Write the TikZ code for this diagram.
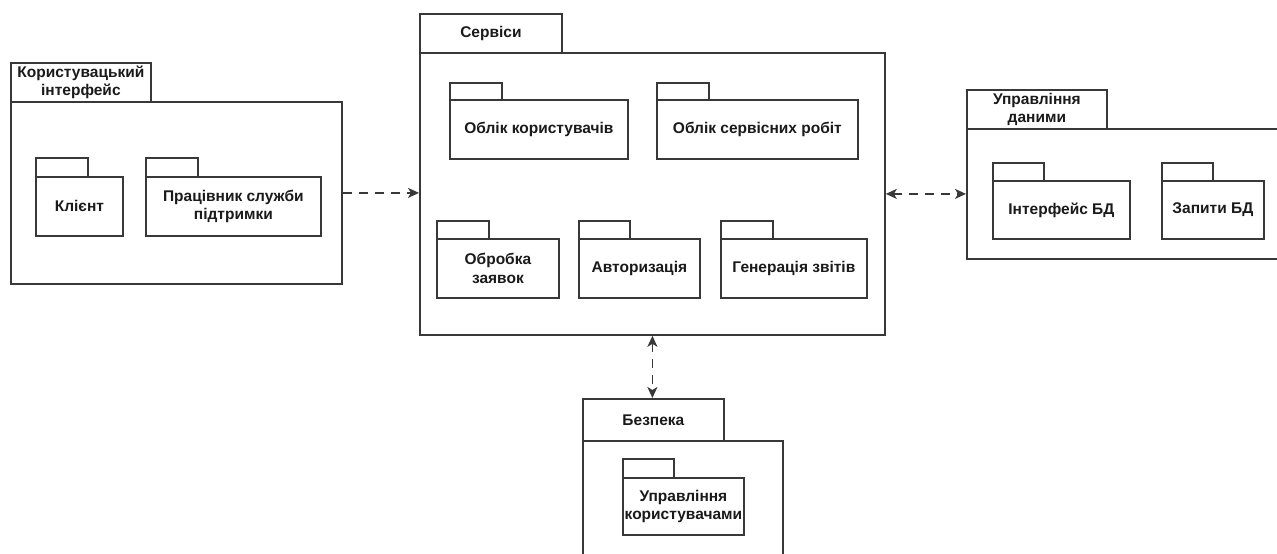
\documentclass[tikz,border=0pt]{standalone}
\usepackage{fontspec}
\setmainfont{Liberation Sans}
\usetikzlibrary{arrows.meta}
\definecolor{edge}{HTML}{383838}
\definecolor{ink}{HTML}{1A1A1A}
\tikzset{
  x=1pt, y=-1pt,
  pkgbox/.style={draw=edge, line width=1.8pt, fill=white, anchor=north west,
    inner sep=0pt, align=center, text=ink,
    font=\fontsize{15.5}{18.5}\selectfont\bfseries},
  dep/.style={draw=edge, line width=1.8pt, dash pattern=on 9pt off 7pt,
    >={Stealth[length=11pt, width=10pt, inset=3pt]}}
}
\begin{document}
\begin{tikzpicture}
\useasboundingbox (0,0) rectangle (1277,554);
\clip (0,0) rectangle (1277,554);
\fill[white] (0,0) rectangle (1277,554);

% --- Користувацький інтерфейс ---
\node[pkgbox, minimum width=331, minimum height=182] (uib) at (10,101) {};
\node[pkgbox, minimum width=140, minimum height=39] (uit) at (10,62) {Користувацький\\інтерфейс};
\node[pkgbox, minimum width=52, minimum height=19] (klt) at (35,157) {};
\node[pkgbox, minimum width=87, minimum height=59] (kl) at (35,176) {Клієнт};
\node[pkgbox, minimum width=52, minimum height=19] (prt) at (145,157) {};
\node[pkgbox, minimum width=175, minimum height=59] (pr) at (145,176) {Працівник служби\\підтримки};

% --- Сервіси ---
\node[pkgbox, minimum width=465, minimum height=282] (srvb) at (419,52) {};
\node[pkgbox, minimum width=142, minimum height=39] (srvt) at (419,13) {Сервіси};
\node[pkgbox, minimum width=52, minimum height=17] (okt) at (449,82) {};
\node[pkgbox, minimum width=178, minimum height=59] (ok) at (449,99) {Облік користувачів};
\node[pkgbox, minimum width=52, minimum height=17] (ost) at (656,82) {};
\node[pkgbox, minimum width=201, minimum height=59] (os) at (656,99) {Облік сервісних робіт};
\node[pkgbox, minimum width=52, minimum height=18] (obt) at (436,220) {};
\node[pkgbox, minimum width=122, minimum height=59] (ob) at (436,238) {Обробка\\заявок};
\node[pkgbox, minimum width=51, minimum height=18] (avt) at (578,220) {};
\node[pkgbox, minimum width=121, minimum height=59] (av) at (578,238) {Авторизація};
\node[pkgbox, minimum width=52, minimum height=18] (gnt) at (720,220) {};
\node[pkgbox, minimum width=146, minimum height=59] (gn) at (720,238) {Генерація звітів};

% --- Управління даними ---
\node[pkgbox, minimum width=330, minimum height=130] (dbb) at (966,128) {};
\node[pkgbox, minimum width=140, minimum height=39] (dbt) at (966,89) {Управління\\даними};
\node[pkgbox, minimum width=51, minimum height=18] (ift) at (992,162) {};
\node[pkgbox, minimum width=137, minimum height=58] (if) at (992,180) {Інтерфейс БД};
\node[pkgbox, minimum width=51, minimum height=18] (zpt) at (1161,162) {};
\node[pkgbox, minimum width=102, minimum height=58] (zp) at (1161,180) {Запити БД};

% --- Безпека ---
\node[pkgbox, minimum width=200, minimum height=140] (secb) at (582,440) {};
\node[pkgbox, minimum width=141, minimum height=42] (sect) at (582,398) {Безпека};
\node[pkgbox, minimum width=51, minimum height=19] (umt) at (622,458) {};
\node[pkgbox, minimum width=121, minimum height=57] (um) at (622,477) {Управління\\користувачами};

% --- залежності ---
\draw[dep, ->] (uib.east) -- (srvb.west |- uib.east);
\draw[dep, <->] (srvb.east) -- (srvb.east -| dbb.west);
\draw[dep, <->] (srvb.south) -- (srvb.south |- sect.north);
\end{tikzpicture}
\end{document}
